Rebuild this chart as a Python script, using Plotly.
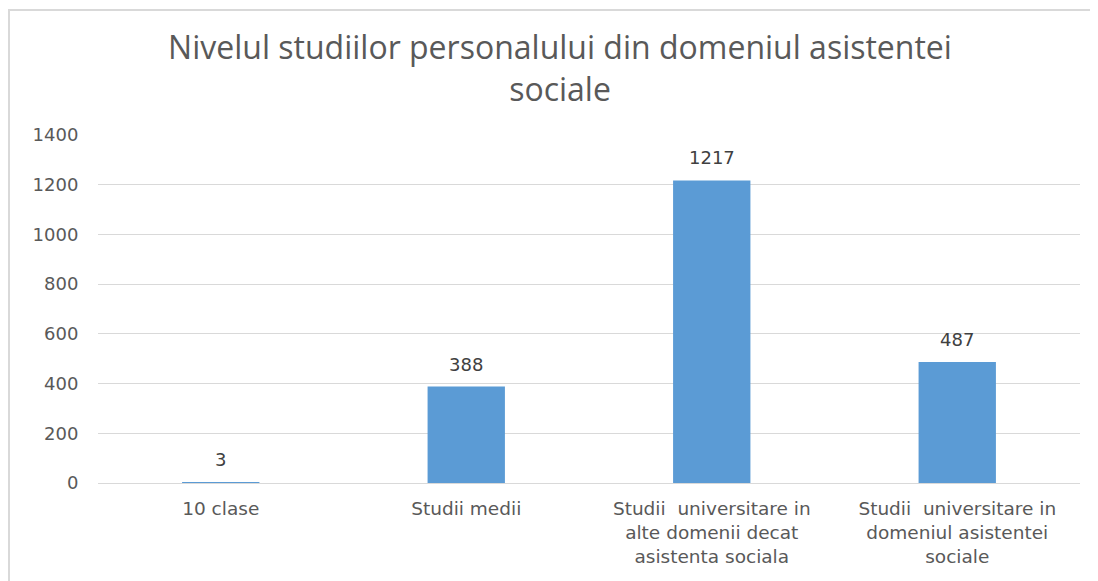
import plotly.graph_objects as go

categories = [
    "10 clase",
    "Studii medii",
    "Studii  universitare in<br>alte domenii decat<br>asistenta sociala",
    "Studii  universitare in<br>domeniul asistentei<br>sociale",
]
values = [3, 388, 1217, 487]
y_ticks = [0, 200, 400, 600, 800, 1000, 1200, 1400]
title_text = "Nivelul studiilor personalului din domeniul asistentei<br>sociale"

W, H = 1098, 581
L, R, T, B = 90, 26, 127, 106
pw, ph = W - L - R, H - T - B

fig = go.Figure()
fig.add_trace(go.Bar(
    x=categories, y=values,
    marker=dict(color="#5b9bd5", line=dict(width=0)),
    width=0.315,
    hoverinfo="x+y",
))

for c, v in zip(categories, values):
    fig.add_annotation(x=c, y=v, text=str(v), showarrow=False,
                       yanchor="bottom", yshift=10,
                       font=dict(family="DejaVu Sans, sans-serif", size=18, color="#404040"))

# chart border
fig.add_shape(type="rect", xref="paper", yref="paper",
              x0=(1 - L) / pw, x1=(1088 - L) / pw,
              y0=-(B + 20) / ph, y1=(H - B - 2) / ph,
              line=dict(color="#d9d9d9", width=2))

fig.update_layout(
    width=W, height=H,
    margin=dict(l=L, r=R, t=T, b=B),
    paper_bgcolor="white", plot_bgcolor="white",
    showlegend=False,
    title=dict(text=title_text, x=552 / W, xanchor="center", xref="container",
               y=1 - 51 / H, yanchor="top",
               font=dict(family="Open Sans, sans-serif", size=32, color="#595959")),
    xaxis=dict(showgrid=False, showline=False, zeroline=False,
               ticks="outside", ticklen=9, tickcolor="rgba(0,0,0,0)",
               tickfont=dict(family="DejaVu Sans, sans-serif", size=18.5, color="#595959")),
    yaxis=dict(range=[0, 1400], tickvals=y_ticks, showgrid=True, gridcolor="#d9d9d9",
               gridwidth=1, zeroline=True, zerolinecolor="#d9d9d9", zerolinewidth=1,
               showline=False, ticks="outside", ticklen=15, tickcolor="rgba(0,0,0,0)",
               tickfont=dict(family="DejaVu Sans, sans-serif", size=18, color="#595959")),
)

fig.write_html("out.html")
